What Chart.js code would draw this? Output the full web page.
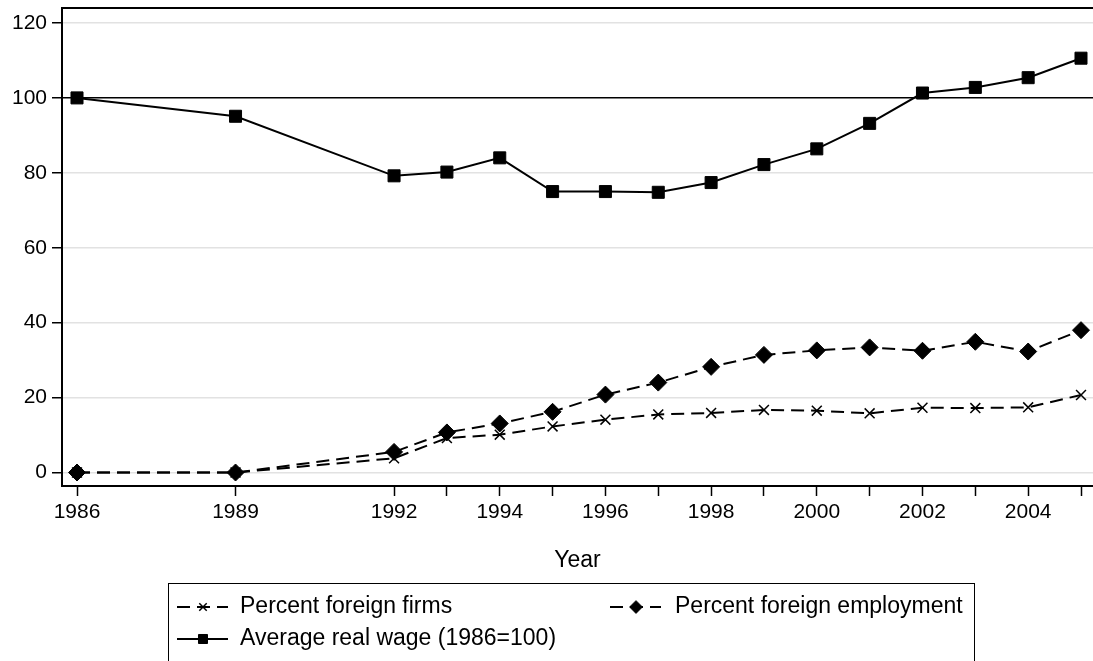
<!DOCTYPE html>
<html>
<head>
<meta charset="utf-8">
<script src="https://cdn.jsdelivr.net/npm/chart.js@4.4.1/dist/chart.umd.min.js"></script>
<style>
   html, body { margin: 0; padding: 0; background: #fff; overflow: hidden; }
</style>
</head>
<body>
<canvas id="myChart" width="1093" height="661"></canvas>
<script>
const years = [1986, 1989, 1992, 1993, 1994, 1995, 1996, 1997, 1998, 1999, 2000, 2001, 2002, 2003, 2004, 2005];
const foreignFirms = [0, 0, 3.8, 9.2, 10.1, 12.3, 14.1, 15.5, 15.9, 16.7, 16.5, 15.8, 17.3, 17.2, 17.4, 20.7];
const foreignEmployment = [0, 0, 5.5, 10.7, 13.1, 16.2, 20.8, 24.0, 28.2, 31.4, 32.6, 33.4, 32.5, 34.9, 32.3, 38.0];
const realWage = [100, 95.1, 79.2, 80.2, 84.0, 75.0, 75.0, 74.8, 77.4, 82.2, 86.4, 93.2, 101.3, 102.8, 105.4, 110.6];

const xLabelYears = [1986, 1989, 1992, 1994, 1996, 1998, 2000, 2002, 2004];
const yTicks = [0, 20, 40, 60, 80, 100, 120];
const refLine = 100;

const seriesNames = ['Percent foreign firms', 'Percent foreign employment', 'Average real wage (1986=100)'];

const FAMILY = '"Liberation Sans", Arial, sans-serif';
const TICK_FONT = { family: FAMILY, size: 21 };
const TEXT_FONT = { family: FAMILY, size: 23 };

const toPoints = vals => years.map((yr, i) => ({ x: yr, y: vals[i] }));

// legend drawn by hand: a boxed two-column key like the original
const boxLegend = {
   id: 'boxLegend',
   afterDraw(chart) {
      const { ctx } = chart;
      const slots = [
         { ds: 0, x: 177, y: 607 },
         { ds: 1, x: 610, y: 607 },
         { ds: 2, x: 177, y: 639 }
      ];
      ctx.save();
      ctx.strokeStyle = '#000';
      ctx.lineWidth = 1;
      ctx.strokeRect(168.5, 583.5, 806, 100);
      ctx.font = `${TEXT_FONT.size}px ${FAMILY}`;
      ctx.textBaseline = 'middle';
      ctx.fillStyle = '#000';
      slots.forEach(s => {
         const ds = chart.data.datasets[s.ds];
         ctx.save();
         ctx.lineWidth = ds.borderWidth;
         ctx.setLineDash(ds.borderDash || []);
         ctx.beginPath();
         ctx.moveTo(s.x, s.y);
         ctx.lineTo(s.x + 51, s.y);
         ctx.stroke();
         ctx.restore();
         ctx.save();
         ctx.fillStyle = '#000';
         ctx.strokeStyle = '#000';
         ctx.lineWidth = ds.pointBorderWidth;
         Chart.helpers.drawPoint(ctx, {
            pointStyle: ds.pointStyle,
            radius: ds.pointRadius * 0.75,
            borderWidth: ds.pointBorderWidth,
            rotation: 0
         }, s.x + 26, s.y);
         ctx.restore();
         ctx.fillText(seriesNames[s.ds], s.ds === 1 ? s.x + 65 : s.x + 63, s.y);
      });
      ctx.restore();
   }
};

const noPad = s => { s.paddingLeft = 0; s.paddingRight = 0; s.paddingTop = 0; s.paddingBottom = 0; };

new Chart(document.getElementById('myChart'), {
   type: 'line',
   data: {
      datasets: [{
         label: seriesNames[0],
         data: toPoints(foreignFirms),
         borderColor: '#000',
         borderWidth: 2,
         borderDash: [13, 7],
         pointStyle: 'crossRot',
         pointRadius: 7,
         pointBorderWidth: 1.5,
         pointBorderColor: '#000',
         pointBackgroundColor: '#000'
      }, {
         label: seriesNames[1],
         data: toPoints(foreignEmployment),
         borderColor: '#000',
         borderWidth: 2,
         borderDash: [13, 7],
         pointStyle: 'rectRot',
         pointRadius: 8.5,
         pointBorderWidth: 1,
         pointBorderColor: '#000',
         pointBackgroundColor: '#000'
      }, {
         label: seriesNames[2],
         data: toPoints(realWage),
         borderColor: '#000',
         borderWidth: 2,
         pointStyle: 'rect',
         pointRadius: 8.5,
         pointBorderWidth: 1,
         pointBorderColor: '#000',
         pointBackgroundColor: '#000'
      }]
   },
   options: {
      responsive: false,
      animation: false,
      layout: { autoPadding: false, padding: { top: 8, left: 0, right: 0, bottom: 0 } },
      elements: { line: { tension: 0 } },
      plugins: {
         legend: { display: false },
         tooltip: { enabled: false }
      },
      scales: {
         x: {
            type: 'linear',
            position: 'bottom',
            min: 1985.716,
            max: 2005.227,
            afterBuildTicks: s => { s.ticks = years.map(v => ({ value: v })); },
            afterFit: s => { s.height = 175; noPad(s); },
            ticks: {
               autoSkip: false,
               maxRotation: 0,
               color: '#000',
               font: TICK_FONT,
               padding: 4,
               callback: v => xLabelYears.includes(v) ? String(v) : ''
            },
            grid: {
               drawOnChartArea: false,
               drawTicks: true,
               tickLength: 10,
               tickColor: '#000',
               tickWidth: 1.5
            },
            border: { color: '#000', width: 2 },
            title: {
               display: true,
               text: 'Year',
               color: '#000',
               font: TEXT_FONT,
               padding: { top: 0, bottom: 87 }
            }
         },
         x2: {
            type: 'linear',
            position: 'top',
            min: 1985.716,
            max: 2005.227,
            ticks: { display: false },
            grid: { display: false },
            border: { display: true, color: '#000', width: 2 },
            afterFit: s => { s.height = 0; noPad(s); }
         },
         y: {
            type: 'linear',
            min: -3.6,
            max: 124,
            afterBuildTicks: s => { s.ticks = yTicks.map(v => ({ value: v })); },
            afterFit: s => { s.width = 62; noPad(s); },
            ticks: {
               color: '#000',
               font: TICK_FONT,
               padding: 5
            },
            grid: {
               color: c => c.tick && c.tick.value === refLine ? '#000' : '#e2e2e2',
               lineWidth: 1.5,
               tickColor: '#000',
               tickLength: 10,
               tickWidth: 1.5
            },
            border: { color: '#000', width: 2 }
         }
      }
   },
   plugins: [boxLegend]
});
</script>
</body>
</html>
